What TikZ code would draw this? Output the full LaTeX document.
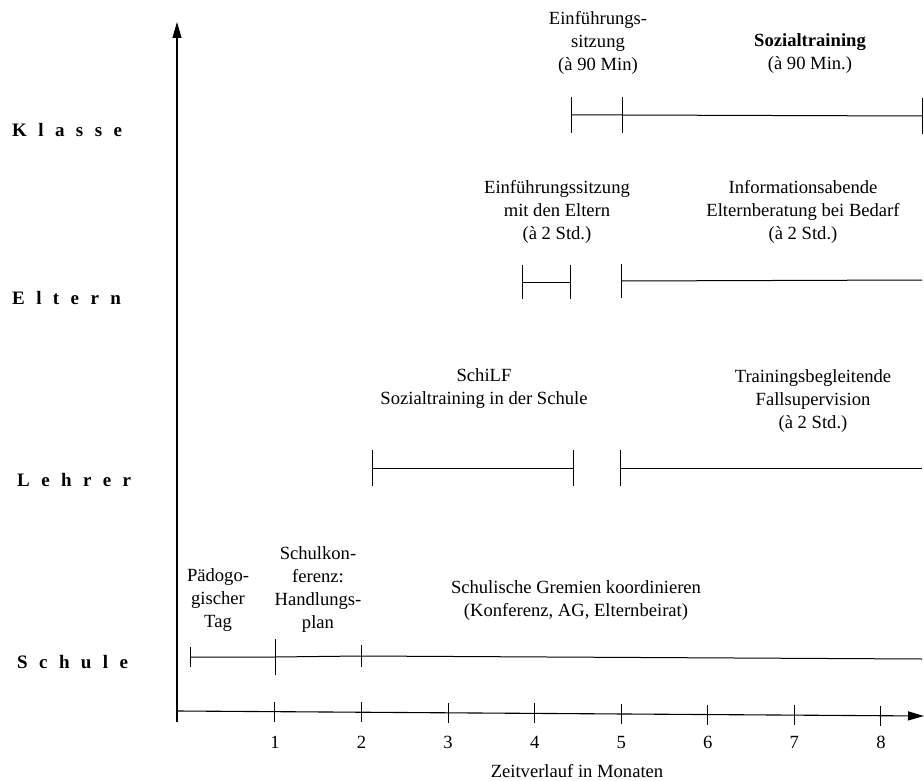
\documentclass[tikz,border=0pt]{standalone}
\usepackage{fontspec}
\setmainfont{Liberation Serif}
\usetikzlibrary{arrows.meta}
\newcommand\lsp{\hspace{0.6em}}
\begin{document}
\begin{tikzpicture}[x=1pt,y=-1pt,
  txt/.style={font=\fontsize{18.6}{23}\selectfont, align=center, inner sep=0pt},
  rowlabel/.style={font=\fontsize{19}{21}\selectfont\bfseries, anchor=west, inner sep=0pt},
  bar/.style={line width=1pt},
  tk/.style={line width=1pt},
  ax/.style={line width=1.1pt},
  axtip/.style={-{Triangle[length=16pt,width=9pt]}}]
\useasboundingbox (0,0) rectangle (924,781);

% row labels
\node[rowlabel] (klasse) at (12,130) {K\lsp l\lsp a\lsp s\lsp s\lsp e};
\node[rowlabel] (eltern) at (12,298) {E\lsp l\lsp t\lsp e\lsp r\lsp n};
\node[rowlabel] (lehrer) at (17,480) {L\lsp e\lsp h\lsp r\lsp e\lsp r};
\node[rowlabel] (schule) at (17,662) {S\lsp c\lsp h\lsp u\lsp l\lsp e};

% axes
\coordinate (ybot) at (177,722);
\coordinate (ytop) at (177,22);
\coordinate (xorg) at (177,711);
\coordinate (xend) at (924,716);
\draw[ax,axtip] (ybot) -- (ytop);
\draw[ax,axtip] (xorg) -- (xend);
\foreach \m in {1,...,8}{
  \pgfmathsetmacro{\xx}{188.4+86.57*\m}
  \pgfmathsetmacro{\yy}{711+5*(\xx-177)/747}
  \coordinate (m\m) at (\xx,\yy);
  \draw[tk] ([yshift=10pt]m\m) -- ([yshift=-10pt]m\m);
  \node[txt] (n\m) at (\xx,742) {\m};
}
\node[txt] (zeit) at (577,771) {Zeitverlauf in Monaten};

% Klasse
\coordinate (k1) at (571,115);
\coordinate (k2) at (622,115);
\coordinate (k3) at (922,116);
\draw[bar] (k1) -- (k2) -- (k3);
\foreach \c in {k1,k2,k3} \draw[tk] ([yshift=18pt]\c) -- ([yshift=-18pt]\c);
\node[txt] (kein) at (598,43) {Einführungs-\\sitzung\\(à 90 Min)};
\node[txt] (ksoz) at (810,54) {\textbf{Sozialtraining}\\(à 90 Min.)};

% Eltern
\coordinate (e1) at (522,282);
\coordinate (e2) at (570,282);
\coordinate (e3) at (621,281);
\coordinate (e4) at (922,280);
\draw[bar] (e1) -- (e2);
\draw[bar] (e3) -- (e4);
\foreach \c in {e1,e2,e3} \draw[tk] ([yshift=17pt]\c) -- ([yshift=-17pt]\c);
\node[txt] (eein) at (557,212) {Einführungssitzung\\mit den Eltern\\(à 2 Std.)};
\node[txt] (einf) at (803,212) {Informationsabende\\Elternberatung bei Bedarf\\(à 2 Std.)};

% Lehrer
\coordinate (l1) at (372,468);
\coordinate (l2) at (573,468);
\coordinate (l3) at (620,468);
\coordinate (l4) at (922,468);
\draw[bar] (l1) -- (l2);
\draw[bar] (l3) -- (l4);
\foreach \c in {l1,l2,l3} \draw[tk] ([yshift=18pt]\c) -- ([yshift=-18pt]\c);
\node[txt] (lschilf) at (484,389) {SchiLF\\Sozialtraining in der Schule};
\node[txt] (ltrain) at (813,401) {Trainingsbegleitende\\Fallsupervision\\(à 2 Std.)};

% Schule
\coordinate (s1) at (190,657);
\coordinate (s2) at (275,657);
\coordinate (s3) at (361,656);
\coordinate (s4) at (922,659);
\draw[bar] (s1) -- (s2) -- (s3) -- (s4);
\draw[tk] ([yshift=10pt]s1) -- ([yshift=-10pt]s1);
\draw[tk] ([yshift=18pt]s2) -- ([yshift=-18pt]s2);
\draw[tk] ([yshift=11pt]s3) -- ([yshift=-11pt]s3);
\node[txt] (spaed) at (218,600) {Pädogo-\\gischer\\Tag};
\node[txt] (skonf) at (318,590) {Schulkon-\\ferenz:\\Handlungs-\\plan};
\node[txt] (sgrem) at (576,601) {Schulische Gremien koordinieren\\(Konferenz, AG, Elternbeirat)};
\end{tikzpicture}
\end{document}
